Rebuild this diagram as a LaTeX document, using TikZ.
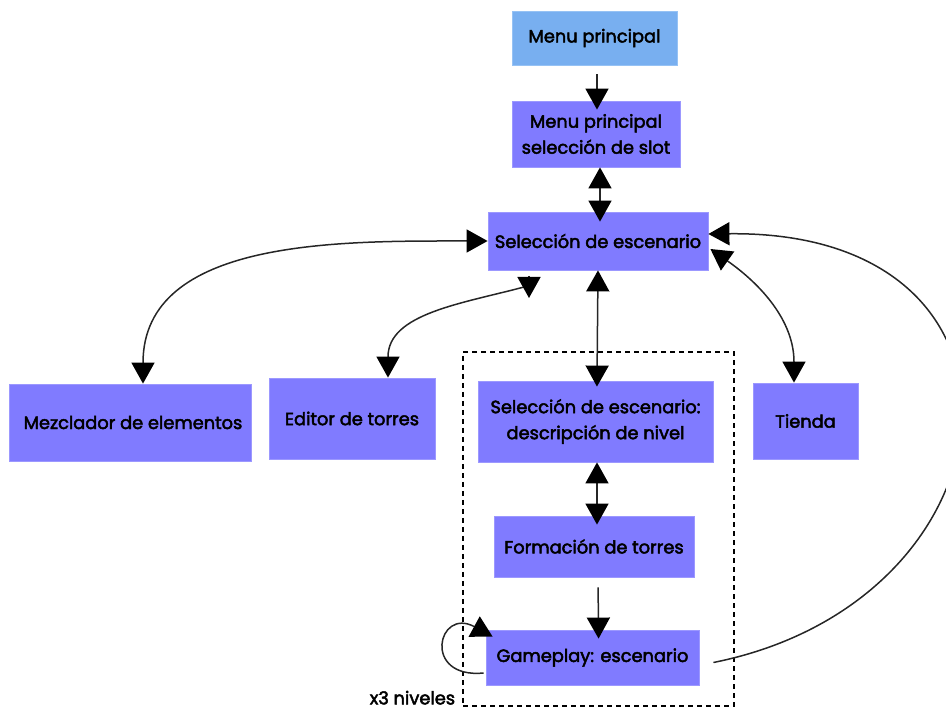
\documentclass[tikz,border=0pt]{standalone}
\usepackage{fontspec}
\setmainfont{Poppins}[FakeBold=2.6]
\usetikzlibrary{arrows.meta,calc}
\definecolor{boxfill}{HTML}{807BFF}
\definecolor{boxedge}{HTML}{9C98FF}
\definecolor{topfill}{HTML}{78AFF0}
\definecolor{topedge}{HTML}{96C2F4}
\begin{document}
\begin{tikzpicture}[x=1pt,y=1pt,
  screen/.style={rectangle, fill=boxfill, draw=boxedge, line width=0.8pt,
    inner sep=0pt, align=center, font=\fontsize{17.8}{26}\selectfont},
  link/.style={line width=1.5pt, draw=black!85},
  head/.tip={Triangle[width=23pt,length=21pt,fill=black,color=black]},
  tipend/.style={link, -head},
  tipboth/.style={link, head-head},
  group/.style={draw=black, line width=1.4pt, dash pattern=on 5pt off 4pt}]
\useasboundingbox (0,0) rectangle (946,710);

% screens
\node[screen, fill=topfill, draw=topedge, minimum width=165pt, minimum height=54pt] (mp) at (594.5,672) {Menu principal};
\node[screen, minimum width=168pt, minimum height=66pt] (slot) at (596,576) {Menu principal\\selección de slot};
\node[screen, minimum width=220pt, minimum height=58pt] (sel) at (598,469) {Selección de escenario};
\node[screen, minimum width=242pt, minimum height=77pt] (mez) at (130,287.5) {\hspace*{6pt}Mezclador de elementos};
\node[screen, minimum width=166pt, minimum height=81pt] (ed) at (352,291.5) {Editor de torres};
\node[screen, minimum width=235pt, minimum height=81pt] (desc) at (595.5,288.5) {Selección de escenario:\\descripción de nivel};
\node[screen, minimum width=105pt, minimum height=76pt] (tienda) at (805.5,289) {Tienda};
\node[screen, minimum width=200pt, minimum height=61pt] (form) at (594,163.5) {Formación de torres};
\node[screen, minimum width=213pt, minimum height=55pt] (game) at (592.5,52.5) {Gameplay: escenario};

% level group
\node[group, minimum width=271pt, minimum height=354pt, inner sep=0pt] (lvl) at (598.5,181) {};
\node[anchor=east, inner sep=0pt, font=\fontsize{17.8}{20}\selectfont] (lvllabel) at ([xshift=-7pt,yshift=9pt]lvl.south west) {x3 niveles};

% straight links
\draw[tipend, shorten <=9pt, shorten >=-9pt] ([xshift=2.5pt]mp.south) -- ([xshift=1pt]slot.north);
\draw[tipboth, shorten >=-10pt] ([xshift=4pt]slot.south) -- ([xshift=2pt]sel.north);
\draw[tipboth, shorten >=-6pt] (sel.south) -- ([xshift=1.5pt]desc.north);
\draw[tipboth, shorten >=-9pt] ([xshift=1.5pt]desc.south) -- ([xshift=3pt]form.north);
\draw[tipend, shorten <=10pt, shorten >=-9pt] ([xshift=4pt]form.south) -- ([xshift=6pt]game.north);

% curved links
\draw[tipboth] ([xshift=13pt]mez.north) to[out=90, in=180] (sel.west);
\coordinate (edend) at (529,423);
\draw[link, head-] ([xshift=36pt]ed.north) to[out=90, in=195] ([xshift=-5pt]edend);
\draw[tipend] ([yshift=11pt]edend) -- ([yshift=-11pt]edend);
\draw[tipboth] ([xshift=-11.5pt]tienda.north) to[out=90, in=-35] ([xshift=2pt,yshift=-8pt]sel.east);
\draw[tipend] ([xshift=14pt,yshift=-5pt]game.east) .. controls +(310,62) and +(352,4) .. ([yshift=7pt]sel.east);
\draw[tipend] ([xshift=-2pt,yshift=-15.5pt]game.west) .. controls +(-62,-6) and +(-55,30) .. ([xshift=7pt,yshift=-7pt]game.north west);
\end{tikzpicture}
\end{document}
